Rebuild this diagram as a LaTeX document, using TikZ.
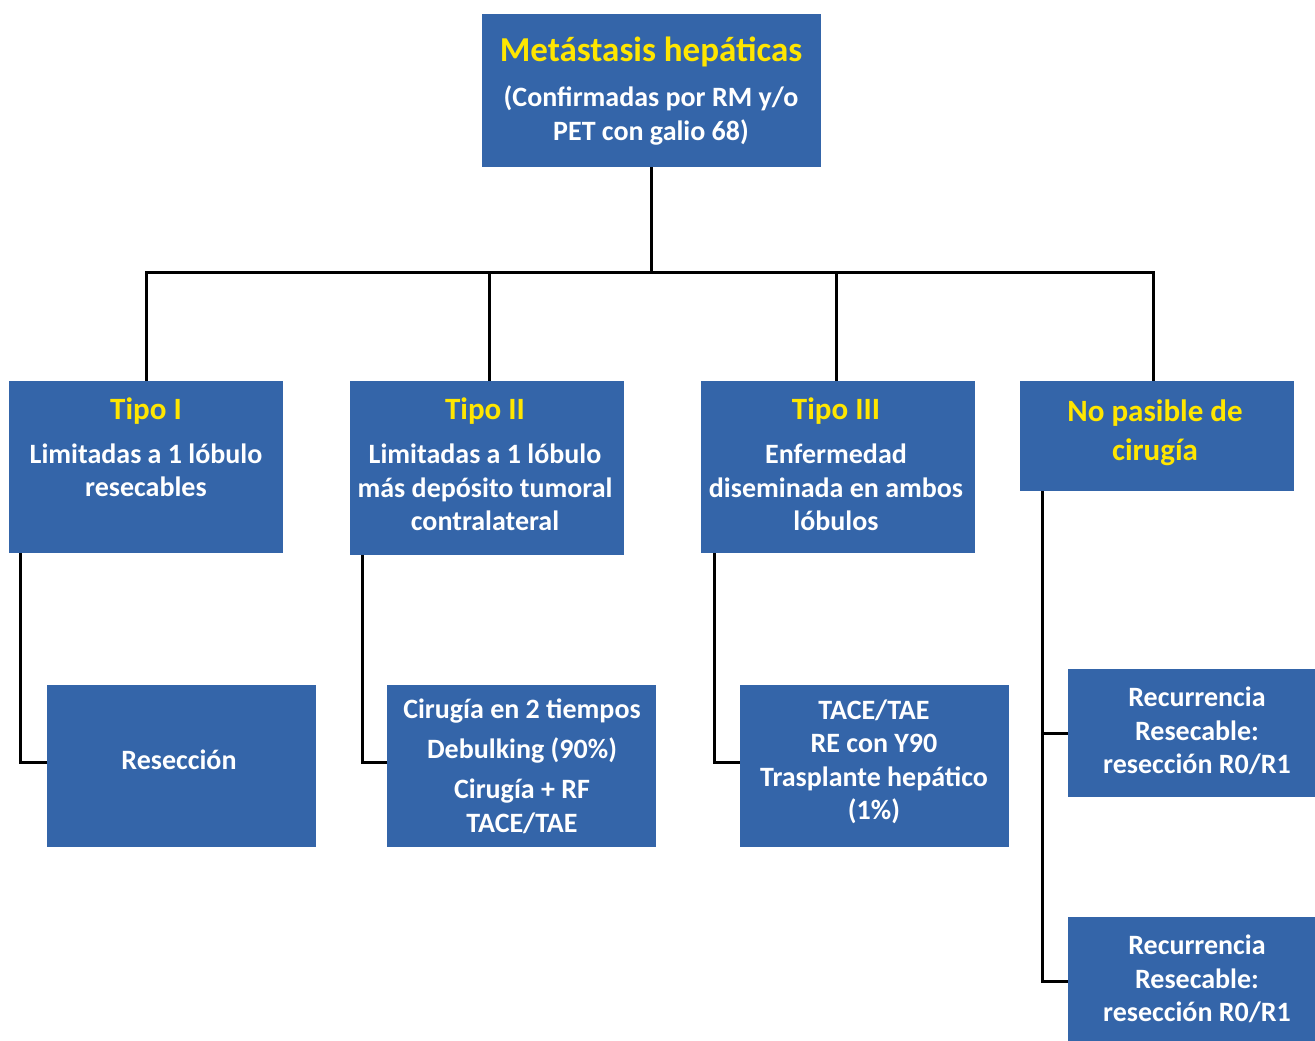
\documentclass[tikz,border=0pt]{standalone}
\usepackage{fontspec}
\setmainfont{Carlito}
\definecolor{boxblue}{HTML}{3465A9}
\definecolor{headyellow}{HTML}{FFE600}
\begin{document}
\begin{tikzpicture}[x=1bp,y=-1bp,
  box/.style={fill=boxblue, draw=none, inner sep=0pt},
  topbox/.style={box, minimum width=339bp, minimum height=153bp},
  typebox/.style={box, minimum width=274bp},
  treatbox/.style={box, minimum width=269bp, minimum height=162bp},
  recbox/.style={box, minimum width=258bp, minimum height=128bp},
  title/.style={inner sep=0pt, text=headyellow, font=\fontsize{35bp}{40bp}\selectfont\bfseries},
  head/.style={inner sep=0pt, text=headyellow, align=center, font=\fontsize{31bp}{39bp}\selectfont\bfseries},
  body/.style={inner sep=0pt, text=white, align=center, font=\fontsize{28bp}{33.5bp}\selectfont\bfseries},
  link/.style={draw=black, line width=3bp}]
\useasboundingbox (0,0) rectangle (1315,1040);
\clip (0,0) rectangle (1315,1040);

% root
\node[topbox] (top) at (651.5,90.5) {};
\node[title] (topH) at (651,52) {Metástasis hepáticas};
\node[body] (topB) at (651,115.5) {(Confirmadas por RM y/o\\PET con galio 68)};

% four categories
\node[typebox, minimum height=172bp] (t1) at (146,467) {};
\node[head] (t1H) at (146,411) {Tipo I};
\node[body] (t1B) at (146,470.5) {Limitadas a 1 lóbulo\\resecables};

\node[typebox, minimum height=174bp] (t2) at (487,468) {};
\node[head] (t2H) at (485,411) {Tipo II};
\node[body] (t2B) at (485,487.5) {Limitadas a 1 lóbulo\\más depósito tumoral\\contralateral};

\node[typebox, minimum height=172bp] (t3) at (838,467) {};
\node[head] (t3H) at (836,411) {Tipo III};
\node[body] (t3B) at (836,487.5) {Enfermedad\\diseminada en ambos\\lóbulos};

\node[typebox, minimum height=110bp] (t4) at (1157,436) {};
\node[head] (t4H) at (1155,432.5) {No pasible de\\cirugía};

% treatments
\node[treatbox] (r1) at (181.5,766) {};
\node[body] (r1B) at (179,759.5) {Resección};

\node[treatbox] (r2) at (521.5,766) {};
\node[body] (r2B) at (522,766.5) {Cirugía en 2 tiempos\\[6.5bp]Debulking (90\%)\\[6.5bp]Cirugía + RF\\TACE/TAE};

\node[treatbox] (r3) at (874.5,766) {};
\node[body] (r3B) at (874,762) {TACE/TAE\\RE con Y90\\Trasplante hepático\\(1\%)};

\node[recbox] (r4) at (1197,733) {};
\node[body] (r4B) at (1197,731) {Recurrencia\\Resecable:\\resección R0/R1};

\node[recbox] (r5) at (1197,981) {};
\node[body] (r5B) at (1197,979) {Recurrencia\\Resecable:\\resección R0/R1};

% connectors
\coordinate (bus) at (651.5,272);
\coordinate (d1) at ([xshift=0bp]t1.north);
\coordinate (d2) at ([xshift=2bp]t2.north);
\coordinate (d3) at ([xshift=-2bp]t3.north);
\coordinate (d4) at ([xshift=-4bp]t4.north);
\draw[link] (top.south) -- (bus);
\draw[link] (d1) -- (d1 |- bus) -- (d4 |- bus) -- (d4);
\draw[link] (d2) -- (d2 |- bus);
\draw[link] (d3) -- (d3 |- bus);

\draw[link] ([xshift=12bp]t1.south west) |- ([yshift=4bp]r1.west);
\draw[link] ([xshift=13bp]t2.south west) |- ([yshift=4bp]r2.west);
\draw[link] ([xshift=14bp]t3.south west) |- ([yshift=4bp]r3.west);
\draw[link] ([xshift=23bp]t4.south west) |- (r5.west);
\draw[link] ([xshift=23bp]t4.south west |- r4.west) -- (r4.west);
\end{tikzpicture}
\end{document}
